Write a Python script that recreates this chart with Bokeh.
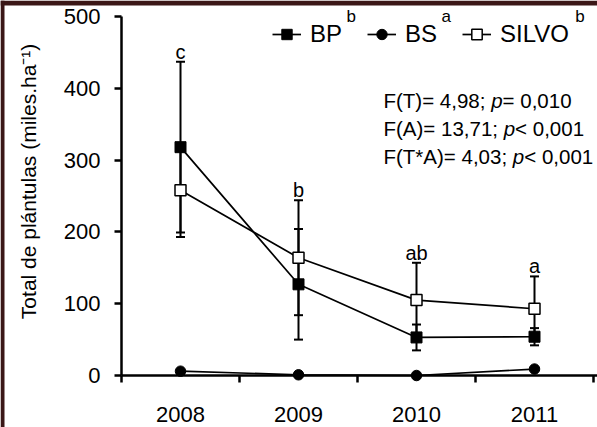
from bokeh.plotting import figure
from bokeh.models import (Range1d, FixedTicker, Whisker, TeeHead, ColumnDataSource,
                          Legend, LegendItem, Label, BoxAnnotation)
from bokeh.embed import file_html
from bokeh.resources import INLINE
from bokeh.core.properties import value

# ---------------- data ----------------
years = [2008, 2009, 2010, 2011]
year_labels = ["2008", "2009", "2010", "2011"]
bp = [318, 127, 53, 54]
bp_err = [119, 77, 18, 12]
bs = [6, 1, 0, 9]
silvo = [258, 164, 105, 93]
silvo_err = [65, 80, 52, 45]
letters = ["c", "b", "ab", "a"]
series_names = ["BP", "BS", "SILVO"]
series_sup = ["b", "a", "b"]
y_ticks = [0, 100, 200, 300, 400, 500]
stats = [("F(T)= 4,98; ", "p", "= 0,010"),
         ("F(A)= 13,71; ", "p", "< 0,001"),
         ("F(T*A)= 4,03; ", "p", "< 0,001")]
y_title = "Total de plántulas (miles.ha⁻¹)"

# ---------------- layout ----------------
FONT = "Liberation Sans"
BORDER = "#3b1717"
W, H = 597, 427
AXIS_X = 121                       # page column of the y axis
Y500_PX, Y0_PX = 16, 375           # page rows of y = 500 and y = 0
ymax_tick = y_ticks[-1]
scale = (Y0_PX - Y500_PX) / ymax_tick
ymax = ymax_tick + Y500_PX / scale
ymin = -(H - Y0_PX) / scale
px_per_year = 118
x_axis_start = years[0] - 0.5
x0 = x_axis_start - AXIS_X / px_per_year
x1 = x0 + W / px_per_year

# Arial / Liberation Sans advance widths (per 1000 em)
ADV = {"F": 611, "(": 333, ")": 333, "T": 611, "A": 667, "=": 584, "<": 584,
       "*": 389, " ": 278, ",": 278, ";": 278, "p": 556, "B": 667, "P": 667,
       "S": 667, "I": 278, "L": 556, "V": 667, "O": 778}
for d in "0123456789":
    ADV[d] = 556


def text_w(s, size):
    return sum(ADV.get(c, 556) for c in s) * size / 1000.0


def fy(abs_y):
    """page pixel row -> frame-relative screen y (upwards from frame bottom)"""
    return H - abs_y


p = figure(width=W, height=H, x_range=Range1d(x0, x1), y_range=Range1d(ymin, ymax),
           output_backend="svg", toolbar_location=None,
           min_border_left=0, min_border_right=0, min_border_top=0,
           min_border_bottom=0)
p.outline_line_color = None
p.xgrid.visible = False
p.ygrid.visible = False
p.background_fill_color = "white"
p.border_fill_color = "white"

# x axis: labels at year centres, ticks at boundaries
xa = p.xaxis[0]
xa.fixed_location = 0
xa.bounds = (x_axis_start, x1)
xa.ticker = FixedTicker(ticks=years,
                        minor_ticks=[y - 0.5 for y in years] + [years[-1] + 0.5])
xa.major_label_overrides = dict(zip(years, year_labels))
xa.major_tick_out = 0
xa.major_tick_in = 0
xa.minor_tick_out = 7
xa.minor_tick_in = 0
xa.minor_tick_line_width = 2.5
xa.minor_tick_line_color = "black"
xa.axis_line_width = 2.5
xa.axis_line_color = "black"
xa.major_label_text_font = FONT
xa.major_label_text_font_size = "22px"
xa.major_label_text_color = "black"
xa.major_label_standoff = 24

ya = p.yaxis[0]
ya.fixed_location = x_axis_start
ya.bounds = (0, ymax_tick)
ya.ticker = FixedTicker(ticks=y_ticks)
ya.major_tick_out = 7
ya.major_tick_in = 0
ya.minor_tick_out = 0
ya.minor_tick_in = 0
ya.major_tick_line_width = 2.5
ya.axis_line_width = 2.5
ya.major_label_text_font = FONT
ya.major_label_text_font_size = "22px"
ya.major_label_text_color = "black"
ya.major_label_standoff = 14
# leading no-break spaces nudge the centred title upwards to the original's place
ya.axis_label = "\u00a0" * 5 + y_title
ya.axis_label_text_font = FONT
ya.axis_label_text_font_style = "normal"
ya.axis_label_text_font_size = "21px"
ya.axis_label_text_color = "black"
ya.axis_label_standoff = 21

# error bars
src = ColumnDataSource(dict(
    x=years,
    bp_lo=[v - e for v, e in zip(bp, bp_err)], bp_hi=[v + e for v, e in zip(bp, bp_err)],
    si_lo=[v - e for v, e in zip(silvo, silvo_err)], si_hi=[v + e for v, e in zip(silvo, silvo_err)],
))
for lo, hi in (("bp_lo", "bp_hi"), ("si_lo", "si_hi")):
    p.add_layout(Whisker(source=src, base="x", lower=lo, upper=hi,
                         line_width=2, line_color="black",
                         upper_head=TeeHead(size=9, line_width=2, line_color="black"),
                         lower_head=TeeHead(size=9, line_width=2, line_color="black")))

# lines
l_bs = p.line(years, bs, line_color="black", line_width=1.7)
l_bp = p.line(years, bp, line_color="black", line_width=1.7)
l_si = p.line(years, silvo, line_color="black", line_width=1.7)
# markers
m_bs = p.scatter(years, bs, marker="circle", size=10.5, fill_color="black", line_color="black")
m_bp = p.scatter(years, bp, marker="square", size=11, fill_color="black", line_color="black")
m_si = p.scatter(years, silvo, marker="square", size=11, fill_color="white",
                 line_color="black", line_width=1.5)

# significance letters above the highest cap
tops = [max(a + b, c + d) for a, b, c, d in zip(bp, bp_err, silvo, silvo_err)]
p.text(x=years, y=tops, text=letters, y_offset=-10, text_align="center",
       text_baseline="alphabetic", text_font=value(FONT), text_font_size="20px",
       text_color="black")

# legend (frame-relative screen units, y up from frame bottom)
LEG_X, LEG_Y = 272, fy(48)
GW, GH, STAND, SPACE, LFS = 29, 26, 9, 25, 24
legend = Legend(items=[LegendItem(label=series_names[0], renderers=[l_bp, m_bp]),
                       LegendItem(label=series_names[1], renderers=[l_bs, m_bs]),
                       LegendItem(label=series_names[2], renderers=[l_si, m_si])],
                orientation="horizontal", location=(LEG_X, LEG_Y),
                glyph_width=GW, glyph_height=GH, label_standoff=STAND, spacing=SPACE,
                padding=0, margin=0, border_line_color=None, background_fill_alpha=0,
                label_text_font=FONT, label_text_font_size=f"{LFS}px",
                label_text_color="black", label_height=GH)
p.add_layout(legend)

x = LEG_X
for name, sup in zip(series_names, series_sup):
    lab_x = x + GW + STAND
    lab_end = lab_x + text_w(name, LFS)
    p.add_layout(Label(x=lab_end + 4, y=fy(16), x_units="screen", y_units="screen",
                       text=sup, text_font=FONT, text_font_size="17px",
                       text_baseline="alphabetic", text_align="left", text_color="black"))
    x = lab_end + SPACE

# statistics
ST_X, SFS = 383, 20.5
for abs_base, (a, b, c) in zip((100, 128, 156), stats):
    xx = ST_X
    for seg, style in ((a, "normal"), (b, "italic"), (c, "normal")):
        p.add_layout(Label(x=xx, y=fy(abs_base), x_units="screen", y_units="screen",
                           text=seg.rstrip(), text_font=FONT, text_font_size=f"{SFS}px",
                           text_font_style=style, text_baseline="alphabetic",
                           text_align="left", text_color="black"))
        xx += text_w(seg, SFS)

# dark picture-frame strips along the top and left edges of the original image
p.add_layout(BoxAnnotation(bottom=ymax - 5 / scale, fill_color=BORDER, fill_alpha=1,
                           line_color=None, level="overlay"))
p.add_layout(BoxAnnotation(right=x0 + 4 / px_per_year, fill_color=BORDER, fill_alpha=1,
                           line_color=None, level="overlay"))

open("out.html", "w").write(file_html(p, INLINE))
